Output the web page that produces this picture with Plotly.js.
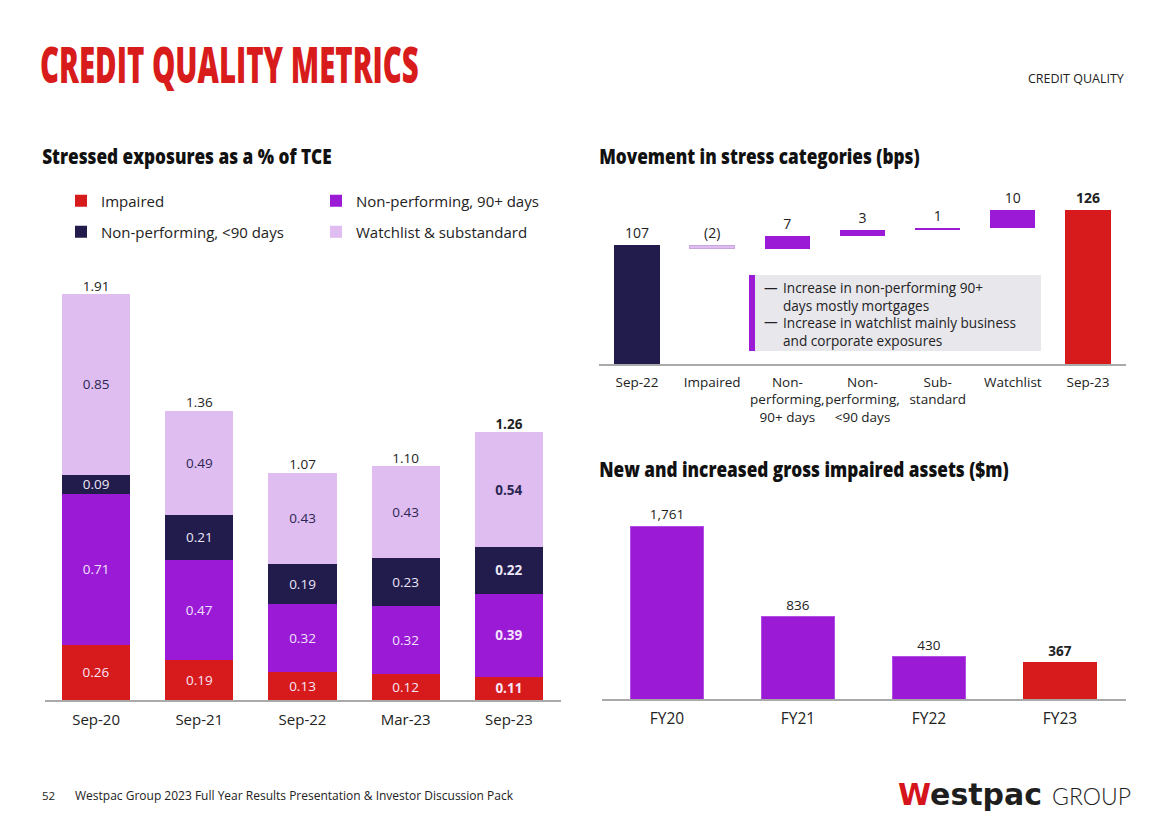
<!DOCTYPE html>
<html><head><meta charset="utf-8">
<script src="https://cdn.plot.ly/plotly-3.0.1.min.js"></script>
<style>html,body{margin:0;padding:0;background:#fff}</style>
</head><body><div id="chart" style="width:1168px;height:825px"></div>
<script>
// ---------- data ----------
const periods = ['Sep-20','Sep-21','Sep-22','Mar-23','Sep-23'];
const impaired = [0.26,0.19,0.13,0.12,0.11];
const np90 = [0.71,0.47,0.32,0.32,0.39];
const npUnder90 = [0.09,0.21,0.19,0.23,0.22];
const watchlist = [0.85,0.49,0.43,0.43,0.54];
const totals = [1.91,1.36,1.07,1.10,1.26];

const moveCats = ['Sep-22','Impaired','Non-<br>performing,<br>90+ days','Non-<br>performing,<br>&lt;90 days','Sub-<br>standard','Watchlist','Sep-23'];
const moveStart = 107;
const moveDeltas = [-2,7,3,1,10];
const moveEnd = 126;

const fyCats = ['FY20','FY21','FY22','FY23'];
const fyValues = [1761,836,430,367];

// ---------- styles ----------
const RED='#d71a1c', PURPLE='#9a1ad6', NAVY='#221c4d', LAV='#dfbdf1';
const BODY='Open Sans, sans-serif';
const HEAD='Open Sans, sans-serif';
const W=1168, H=825;
const px=x=>x/W, py=y=>(H-y)/H;

const lastIdx = periods.length-1;
function segText(arr){ return arr.map((v,i)=> i===lastIdx ? '<b>'+v.toFixed(2)+'</b>' : v.toFixed(2)); }
function seg(name, vals, color, txtColor, legend){
  return {type:'bar', name:name, x:periods, y:vals, xaxis:'x', yaxis:'y', width:0.66,
    marker:{color:color, line:{width:0}}, text:segText(vals), textposition:'inside',
    insidetextanchor:'middle', textfont:{family:BODY,size:13.5,color:txtColor},
    constraintext:'none', legend:legend, hoverinfo:'skip'};
}
const traces = [
  seg('Impaired', impaired, RED, '#f6e6f6', 'legend'),
  seg('Non-performing, 90+ days', np90, PURPLE, '#f3e3fb', 'legend'),
  seg('Non-performing, &lt;90 days', npUnder90, NAVY, '#ece6f6', 'legend2'),
  seg('Watchlist & substandard', watchlist, LAV, '#2c2752', 'legend2'),
  {type:'scatter', mode:'text', x:periods, y:totals, xaxis:'x', yaxis:'y',
   text: totals.map((v,i)=> i===lastIdx ? '<b>'+v.toFixed(2)+'</b>' : v.toFixed(2)),
   textposition:'top center', textfont:{family:BODY,size:13.5,color:'#222'},
   showlegend:false, hoverinfo:'skip', cliponaxis:false}
];

// waterfall built from start, deltas, end
const wfBase=[], wfH=[], wfText=[];
wfBase.push(0); wfH.push(moveStart); wfText.push(String(moveStart));
let run = moveStart;
moveDeltas.forEach(d=>{ wfBase.push(Math.min(run,run+d)); wfH.push(Math.abs(d)); wfText.push(d<0?'('+(-d)+')':String(d)); run+=d; });
wfBase.push(0); wfH.push(moveEnd); wfText.push('<b>'+moveEnd+'</b>');
const wfColors = [NAVY, LAV, PURPLE, PURPLE, PURPLE, PURPLE, RED];
const wfLine = ['rgba(0,0,0,0)','#c8a6de','rgba(0,0,0,0)','rgba(0,0,0,0)','rgba(0,0,0,0)','rgba(0,0,0,0)','rgba(0,0,0,0)'];
traces.push({type:'bar', x:moveCats, y:wfH, base:wfBase, xaxis:'x2', yaxis:'y2', width:0.6,
  marker:{color:wfColors, line:{color:wfLine, width:1}}, text:wfText, textposition:'outside',
  textfont:{family:BODY,size:14,color:'#222'}, constraintext:'none', cliponaxis:false,
  showlegend:false, hoverinfo:'skip'});

traces.push({type:'bar', x:fyCats, y:fyValues, xaxis:'x3', yaxis:'y3', width:0.557,
  marker:{color:[PURPLE,PURPLE,PURPLE,RED], line:{color:['#b24ee6','#b24ee6','#b24ee6',RED], width:1}},
  text: fyValues.map((v,i)=> i===fyValues.length-1 ? '<b>'+v.toLocaleString('en-US')+'</b>' : v.toLocaleString('en-US')),
  textposition:'outside', textfont:{family:BODY,size:13.5,color:'#222'}, constraintext:'none', cliponaxis:false,
  showlegend:false, hoverinfo:'skip'});

const axisX = (dom, anchor, fs)=>({domain:dom, anchor:anchor, showline:true, linecolor:'#a9a9a9', linewidth:1.5,
  ticks:'', showgrid:false, zeroline:false, fixedrange:true, ticklabelstandoff:5, tickangle:0,
  tickfont:{family:BODY,size:fs,color:'#222'}});
const axisY = (dom, rng)=>({domain:dom, range:rng, visible:false, showgrid:false, zeroline:false, fixedrange:true});

const ann = [];
function addText(t, x, y, opts){ ann.push(Object.assign({text:t, x:px(x), y:py(y), xref:'paper', yref:'paper', showarrow:false, xanchor:'left', yanchor:'middle'}, opts)); }
const subFont = {family:HEAD, size:21.5, color:'#111', weight:800};
addText('Stressed exposures as a % of TCE', 40, 155, {font:subFont});
addText('Movement in stress categories (bps)', 597, 155, {font:subFont});
addText('New and increased gross impaired assets ($m)', 597, 468, {font:subFont});
addText('CREDIT QUALITY', 1126, 78, {xanchor:'right', font:{family:BODY,size:12.5,color:'#222'}});
addText('52', 40, 795, {font:{family:BODY,size:11.5,color:'#222'}});
addText('Westpac Group 2023 Full Year Results Presentation &amp; Investor Discussion Pack', 73, 795, {font:{family:BODY,size:12,color:'#222'}});
addText('<span style="color:#d5141c">W</span>estpac', 896, 794, {font:{family:'DejaVu Sans, sans-serif',size:30,color:'#1e1e1e',weight:700}});
addText('GROUP', 1050, 796, {font:{family:'Lato, sans-serif',size:23,color:'#1e1e1e',weight:300}});
// annotation box text
const boxFont = {family:BODY,size:13.6,color:'#222'};
addText('—', 762, 287, {font:boxFont});
addText('—', 762, 322, {font:boxFont});
addText('Increase in non-performing 90+<br>days mostly mortgages<br>Increase in watchlist mainly business<br>and corporate exposures', 781, 313.5, {font:boxFont, align:'left'});

const shapes = [
  {type:'rect', xref:'paper', yref:'paper', x0:px(749), x1:px(1041), y0:py(351), y1:py(275), fillcolor:'#e8e7ec', line:{width:0}, layer:'below'},
  {type:'rect', xref:'paper', yref:'paper', x0:px(749), x1:px(755), y0:py(351), y1:py(275), fillcolor:PURPLE, line:{width:0}}
];

const legendBase = {orientation:'h', xanchor:'left', yanchor:'middle', x:px(61),
  font:{family:BODY,size:15,color:'#222'}, entrywidth:210, entrywidthmode:'pixels',
  bgcolor:'rgba(0,0,0,0)', itemclick:false, itemdoubleclick:false, traceorder:'normal', tracegroupgap:0, itemwidth:30};

const layout = {
  width:W, height:H, margin:{l:0,r:0,t:0,b:0}, paper_bgcolor:'#fff', plot_bgcolor:'rgba(0,0,0,0)',
  barmode:'stack', hovermode:false, showlegend:true,
  title:{text:'CREDIT QUALITY METRICS', x:px(40), xanchor:'left', xref:'paper', y:py(66), yanchor:'middle', yref:'paper',
    font:{family:HEAD, size:49, weight:800, color:'#d81b1b'}},
  xaxis: axisX([px(44.5), px(560.5)], 'y', 15),
  yaxis: axisY([py(700), py(265)], [0, (700-265)/212.6]),
  xaxis2: axisX([px(599.4), px(1125.6)], 'y2', 13.5),
  yaxis2: axisY([py(364), py(190)], [42.4, 136.9]),
  xaxis3: axisX([px(601.5), px(1125.5)], 'y3', 15.5),
  yaxis3: axisY([py(699), py(505)], [0, 1975]),
  legend: Object.assign({}, legendBase, {y:py(201)}),
  legend2: Object.assign({}, legendBase, {y:py(232)}),
  annotations: ann, shapes: shapes
};

// condensed display font emulation: squeeze heading text horizontally
function squeeze(el, s){
  el.style.transformBox='fill-box'; el.style.transformOrigin='0% 50%'; el.style.transform='scaleX('+s+')';
}
Plotly.newPlot('chart', traces, layout, {displayModeBar:false, staticPlot:true}).then(gd=>{
  const t = gd.querySelector('.gtitle'); if (t) squeeze(t, 0.6);
  const heads = ['Stressed exposures','Movement in stress','New and increased'];
  gd.querySelectorAll('text.annotation-text').forEach(el=>{
    if (heads.some(h=>el.textContent.indexOf(h)===0)) squeeze(el, 0.8);
  });
});
</script></body></html>
